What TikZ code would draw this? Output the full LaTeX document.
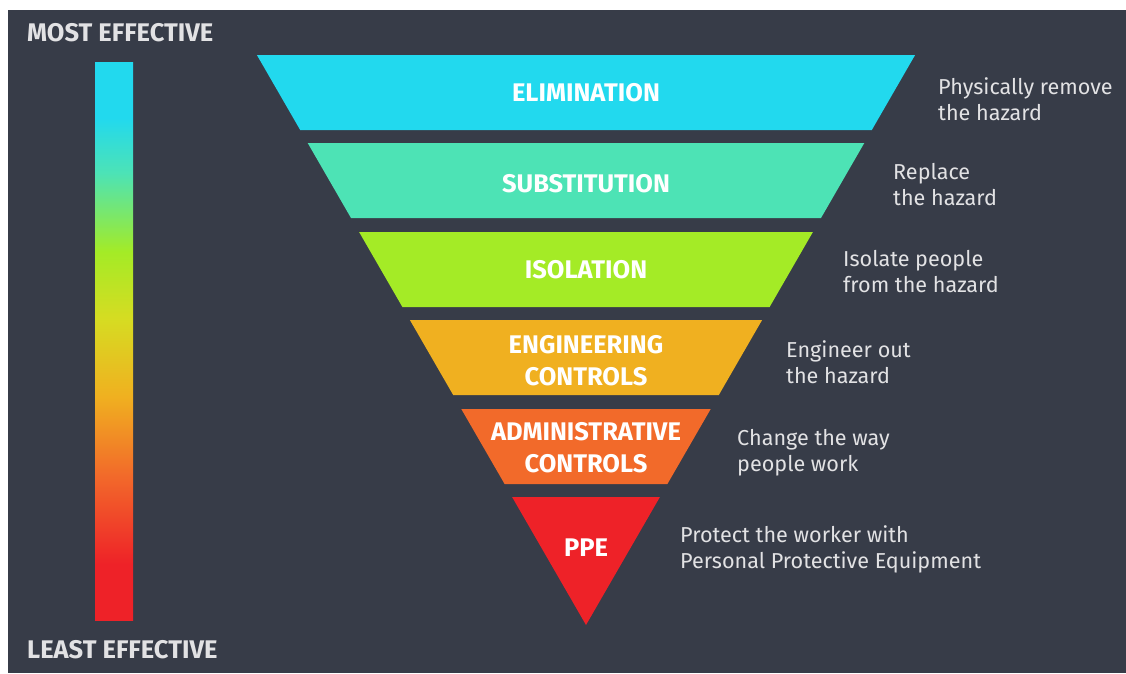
\documentclass[tikz,border=0pt]{standalone}
\usepackage{fontspec}
\setmainfont{Fira Sans}
\newfontfamily\capsfont{Fira Sans}

\definecolor{bgdark}{HTML}{373C48}
\definecolor{notegray}{HTML}{E2E2E4}
\definecolor{elimcol}{HTML}{22D9EE}
\definecolor{substcol}{HTML}{4DE3B5}
\definecolor{isolcol}{HTML}{A4EB26}
\definecolor{engcol}{HTML}{F0B020}
\definecolor{admincol}{HTML}{F26A2A}
\definecolor{ppecol}{HTML}{EE2228}
\definecolor{yelcol}{HTML}{D6DC22}

\pgfdeclareverticalshading{effbar}{100bp}{color(0bp)=(ppecol); color(30bp)=(ppecol);
  color(38bp)=(admincol); color(45bp)=(engcol); color(52bp)=(yelcol);
  color(58bp)=(isolcol); color(65bp)=(substcol); color(70bp)=(elimcol);
  color(100bp)=(elimcol)}

\begin{document}
\begin{tikzpicture}[x=1pt,y=-1pt,
  tier/.style={text=white,inner sep=0pt,align=center,
    font=\capsfont\bfseries\fontsize{25.5}{32}\selectfont},
  note/.style={text=notegray,inner sep=0pt,align=left,anchor=west,
    font=\fontsize{21.6}{26}\selectfont},
  rank/.style={text=notegray,inner sep=0pt,anchor=west,
    font=\capsfont\bfseries\fontsize{25.5}{30}\selectfont}]
% background
\fill[white] (0,0) rectangle (1126,673);
\fill[bgdark] (8,10) rectangle (1126,673);

% effectiveness bar
\node[rank] (most) at (27,33) {MOST EFFECTIVE};
\node[rank] (least) at (27,650) {LEAST EFFECTIVE};
\shade[shading=effbar] (95,62) rectangle (133,620);

% hierarchy bands
\fill[elimcol] (256.9,55) -- (915.1,55) -- (871.8,130) -- (300.2,130) -- cycle;
\fill[substcol] (307.7,143) -- (864.3,143) -- (821,218) -- (351,218) -- cycle;
\fill[isolcol] (359.1,232) -- (812.9,232) -- (769.6,307) -- (402.4,307) -- cycle;
\fill[engcol] (409.9,320) -- (762.1,320) -- (718.8,395) -- (453.2,395) -- cycle;
\fill[admincol] (461.3,409) -- (710.7,409) -- (667.4,484) -- (504.6,484) -- cycle;
\fill[ppecol] (512.1,497) -- (659.9,497) -- (586,625) -- cycle;

\node[tier] (elim) at (586,93) {ELIMINATION};
\node[tier] (subst) at (586,184) {SUBSTITUTION};
\node[tier] (isol) at (586,270) {ISOLATION};
\node[tier] (eng) at (586,361) {ENGINEERING\\CONTROLS};
\node[tier] (admin) at (586,448) {ADMINISTRATIVE\\CONTROLS};
\node[tier] (ppe) at (586,548) {PPE};

% notes
\node[note] (elimnote) at (938,99) {Physically remove\\the hazard};
\node[note] (substnote) at (893,185) {Replace\\the hazard};
\node[note] (isolnote) at (843,272) {Isolate people\\from the hazard};
\node[note] (engnote) at (786,362) {Engineer out\\the hazard};
\node[note] (adminnote) at (737,453) {Change the way\\people work};
\node[note] (ppenote) at (680,549) {Protect the worker with\\Personal Protective Equipment};
\end{tikzpicture}
\end{document}
